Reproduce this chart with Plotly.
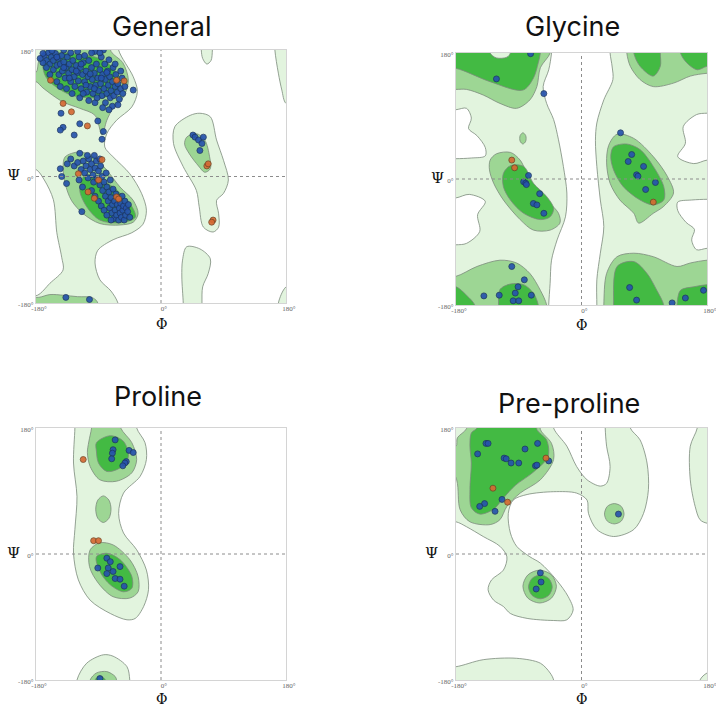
import plotly.graph_objects as go

# ---------------- colours / style ----------------
LIGHT = '#e2f4de'
MID = '#9dd694'
DARK = '#43ba43'
WHITE = '#ffffff'
EDGE = '#7b8a7b'
BLUE = '#2653ad'
BLUE_EDGE = '#1c355f'
ORANGE = '#d66a33'
ORANGE_EDGE = '#6e4424'

panel_titles = ['General', 'Glycine', 'Proline', 'Pre-proline']
tick_vals = [-180, 0, 180]
x_tick_text = ['-180°', '0°', '180°']
y_tick_text = ['-180°', '0°', '180°']

# ---------------- General: regions (phi, psi) ----------------
gen_light_left = [(-200, 200), (-61, 200), (-61, 180), (-40, 142), (-34, 121), (-42, 99), (-64, 80), (-78, 61),
                  (-81, 42), (-69, 28), (-45, 4), (-28, -24), (-21, -48), (-26, -68), (-42, -80), (-69, -90),
                  (-91, -105), (-95, -123), (-88, -147), (-72, -163), (-62, -180), (-60, -200), (-200, -200),
                  (-200, -170), (-178, -169), (-160, -152), (-141, -133), (-143, -115), (-150, -80),
                  (-155, -33), (-168, -5), (-180, 10), (-200, 12)]
gen_light_lh = [(42, 87), (56, 90), (71, 85), (80, 52), (90, 23), (97, -5), (90, -24), (80, -34), (83, -53),
                (83, -72), (75, -79), (61, -72), (55, -43), (51, -20), (32, 14), (18, 47), (20, 71)]
gen_light_top = [(58, 200), (58, 180), (60, 168), (66, 160), (72, 165), (74, 180), (74, 200)]
gen_light_bottom = [(37, -100), (56, -103), (71, -117), (68, -138), (60, -157), (59, -180), (59, -200),
                    (32, -200), (32, -180), (30, -143), (31, -119)]
gen_light_right_top = [(164, 200), (164, 180), (169, 147), (174, 123), (180, 104), (200, 100), (200, 200)]
gen_light_right_bot = [(169, -200), (169, -180), (180, -157), (200, -150), (200, -200)]
gen_mid_beta = [(-200, 145), (-180, 148), (-176, 165), (-168, 178), (-165, 200), (-75, 200), (-72, 178),
                (-55, 162), (-47, 137), (-54, 113), (-69, 97), (-78, 80), (-85, 59), (-95, 87), (-117, 97),
                (-141, 106), (-170, 126), (-180, 135), (-200, 135)]
gen_dark_beta = [(-170, 160), (-162, 172), (-145, 176), (-120, 174), (-95, 170), (-75, 160), (-60, 140),
                 (-62, 122), (-80, 113), (-105, 112), (-130, 116), (-152, 128), (-166, 142)]
gen_mid_alpha = [(-138, 28), (-117, 35), (-97, 28), (-78, 9), (-59, -15), (-40, -34), (-33, -53), (-40, -65),
                 (-59, -69), (-88, -67), (-112, -53), (-129, -34), (-138, -10), (-141, 14)]
gen_dark_alpha = [(-109, 2), (-78, -9), (-45, -38), (-37, -58), (-59, -66), (-88, -62), (-107, -43),
                  (-117, -19)]
gen_mid_lh = [(37, 56), (51, 61), (63, 52), (70, 28), (71, 11), (63, 6), (54, 15), (41, 32), (34, 46)]
gen_mid_bottom = [(-200, -172), (-176, -172), (-160, -168), (-140, -169), (-120, -171), (-100, -172),
                  (-92, -178), (-90, -200), (-200, -200)]

gen_blue = [(-168, 172), (-165, 165), (-162, 176), (-160, 160), (-158, 170), (-155, 165), (-155, 152),
            (-152, 175), (-150, 158), (-148, 168), (-147, 145), (-145, 160), (-143, 172), (-142, 150),
            (-140, 163), (-138, 140), (-137, 155), (-135, 170), (-133, 147), (-132, 160), (-130, 135),
            (-128, 152), (-127, 165), (-125, 142), (-124, 128), (-122, 158), (-120, 148), (-119, 136),
            (-118, 170), (-116, 155), (-115, 125), (-113, 145), (-112, 162), (-110, 135), (-108, 150),
            (-107, 120), (-105, 142), (-104, 165), (-102, 128), (-100, 155), (-99, 138), (-98, 118),
            (-96, 147), (-95, 178), (-94, 130), (-93, 160), (-91, 140), (-90, 122), (-88, 152), (-87, 132),
            (-86, 170), (-85, 115), (-84, 145), (-82, 125), (-81, 160), (-80, 138), (-78, 118), (-77, 150),
            (-76, 130), (-74, 142), (-73, 112), (-72, 122), (-70, 135), (-69, 155), (-68, 115), (-66, 128),
            (-65, 145), (-63, 120), (-62, 132), (-60, 110), (-58, 125), (-56, 140), (-55, 118), (-52, 128),
            (-40, 123), (-83, 180), (-100, 176), (-110, 172), (-88, 176), (-160, 145), (-150, 135),
            (-165, 155), (-170, 162), (-145, 128), (-136, 125), (-128, 118), (-117, 112), (-104, 108),
            (-95, 105), (-80, 105), (-70, 100), (-62, 102), (-75, 166), (-66, 160), (-58, 150), (-120, 178),
            (-130, 176), (-140, 180), (-157, 179), (-112, 118), (-92, 112), (-84, 98), (-75, 95), (-122, 150),
            (-108, 130), (-96, 125), (-86, 140), (-78, 148), (-102, 146), (-115, 160), (-140, 155),
            (-132, 140), (-150, 170), (-170, 175), (-174, 168),
            (-125, 15), (-120, 20), (-115, 10), (-112, 22), (-110, 5), (-108, 15), (-105, -2), (-104, 25),
            (-102, 10), (-100, 18), (-98, 2), (-97, -8), (-95, 12), (-93, 22), (-92, -3), (-90, 8), (-88, -12),
            (-87, 15), (-85, 0), (-84, -20), (-82, -8), (-80, -28), (-79, 5), (-78, -15), (-76, -35),
            (-75, -22), (-74, -45), (-73, -5), (-72, -30), (-71, -52), (-70, -40), (-69, -18), (-68, -60),
            (-67, -35), (-66, -48), (-65, -25), (-64, -55), (-63, -40), (-62, -30), (-61, -62), (-60, -45),
            (-59, -52), (-58, -38), (-57, -58), (-56, -28), (-55, -48), (-54, -42), (-53, -62), (-52, -35),
            (-51, -55), (-50, -45), (-48, -50), (-47, -40), (-45, -58), (-118, -5), (-113, -15), (-100, -20),
            (-95, -28), (-90, -35), (-86, -42), (-82, -48), (-78, -55), (-72, -62), (-145, 11), (-143, 0),
            (-136, -10), (-117, 33), (-114, -50), (-130, 25), (-135, 18), (-106, 30), (-96, 30), (-88, 25),
            (46, 59), (49, 56), (54, 52), (59, 47), (56, 37), (61, 56), (-137, -172), (-103, -175),
            (-144, 90), (-141, 70), (-145, 66), (-125, 59), (-117, 75), (-91, 79), (-83, 64), (-85, 53)]
gen_orange = [(-159, 137), (-141, 104), (-129, 92), (-106, 72), (-64, 137), (-53, 136), (-85, 24), (-119, 4),
              (-90, -5), (-105, -22), (-96, -31), (-64, -29), (-61, -32), (66, 15), (68, 18), (75, -62),
              (73, -65)]

# ---------------- Glycine ----------------
gly_background = [(-200, -200), (200, -200), (200, 200), (-200, 200)]
gly_white_center = [(-42, 200), (-43, 180), (-47, 156), (-55, 132), (-50, 108), (-40, 85), (-33, 56),
                    (-26, 18), (-21, -20), (-23, -54), (-35, -87), (-43, -116), (-45, -149), (-47, -180),
                    (-47, -200), (22, -200), (22, -180), (22, -144), (27, -106), (32, -68), (27, -30),
                    (22, 18), (20, 55), (22, 80), (32, 113), (45, 142), (44, 160), (41, 180), (41, 200)]
gly_white_left1 = [(-200, 99), (-180, 99), (-165, 101), (-158, 87), (-162, 72), (-150, 62), (-138, 45),
                   (-138, 33), (-158, 30), (-180, 29), (-200, 29)]
gly_white_left2 = [(-200, -27), (-180, -27), (-161, -22), (-138, -32), (-149, -51), (-146, -75),
                   (-165, -92), (-180, -94), (-200, -94)]
gly_white_right1 = [(200, 94), (180, 94), (165, 92), (146, 75), (149, 51), (138, 32), (161, 22), (180, 27),
                    (200, 27)]
gly_white_right2 = [(200, -99), (180, -99), (165, -101), (158, -87), (162, -72), (150, -62), (138, -45),
                    (138, -33), (158, -30), (180, -29), (200, -29)]
gly_mid_tl = [(-200, 128), (-180, 128), (-165, 128), (-141, 120), (-117, 108), (-93, 101), (-74, 113),
              (-64, 132), (-59, 159), (-45, 180), (-45, 200), (-200, 200)]
gly_dark_tl = [(-200, 158), (-180, 158), (-131, 139), (-84, 127), (-69, 144), (-62, 166), (-59, 180),
               (-59, 200), (-200, 200)]
gly_notch = [(-131, 200), (-131, 180), (-122, 173), (-107, 174), (-102, 180), (-102, 200)]
gly_mid_bl = [(-200, -139), (-180, -139), (-150, -125), (-117, -116), (-93, -120), (-74, -135), (-59, -159),
              (-50, -180), (-50, -200), (-200, -200)]
gly_dark_bl1 = [(-200, -154), (-180, -154), (-165, -166), (-153, -180), (-150, -200), (-200, -200)]
gly_dark_bl2 = [(-119, -200), (-119, -180), (-117, -158), (-102, -150), (-83, -151), (-69, -163),
                (-62, -180), (-62, -200)]
gly_mid_la = [(-131, 27), (-122, 36), (-102, 38), (-88, 27), (-74, -1), (-50, -30), (-33, -49), (-31, -63),
              (-45, -73), (-69, -73), (-88, -58), (-112, -30), (-126, -6), (-132, 13)]
gly_dark_la = [(-112, 8), (-102, 19), (-83, 18), (-69, -6), (-50, -25), (-40, -42), (-45, -54), (-59, -58),
               (-83, -49), (-102, -30), (-112, -11)]
gly_blob = [(-84, 66), (-80, 62), (-80, 54), (-84, 50), (-88, 54), (-88, 62)]
gly_mid_ra = [(51, 64), (75, 58), (103, 32), (123, 4), (132, -20), (118, -39), (103, -49), (82, -63),
              (75, -49), (55, -30), (41, -6), (36, 23), (39, 48)]
gly_dark_ra = [(46, 46), (65, 50), (84, 42), (103, 18), (118, -11), (118, -30), (103, -37), (84, -30),
               (60, -11), (46, 13), (42, 32)]
gly_mid_tr = [(65, 200), (65, 180), (70, 161), (84, 142), (103, 132), (132, 137), (156, 147), (180, 151),
              (200, 151), (200, 200)]
gly_dark_tr1 = [(75, 200), (75, 180), (84, 161), (103, 147), (113, 161), (113, 180), (113, 200)]
gly_dark_tr2 = [(142, 200), (142, 180), (151, 166), (166, 156), (180, 161), (200, 161), (200, 200)]
gly_mid_br = [(32, -200), (32, -180), (36, -135), (51, -111), (75, -106), (103, -111), (137, -125),
              (156, -120), (180, -116), (200, -116), (200, -200)]
gly_dark_br1 = [(46, -200), (46, -180), (51, -125), (75, -118), (94, -135), (108, -159), (118, -180),
                (118, -200)]
gly_dark_br2 = [(137, -200), (137, -180), (142, -159), (161, -154), (180, -151), (200, -151), (200, -200)]

gly_blue = [(-73, 179), (-122, 143), (-54, 122), (56, 66), (-76, 5), (-83, -4), (-80, -6), (-79, -8),
            (-60, -21), (-69, -35), (-64, -37), (-54, -49), (72, 35), (67, 25), (89, 18), (79, 6), (81, 4),
            (106, -5), (92, -15), (-100, -125), (-82, -144), (-91, -154), (-72, -166), (-95, -163),
            (-118, -166), (-140, -167), (-98, -174), (-90, -174), (69, -155), (79, -173), (130, -177),
            (149, -170), (175, -159)]
gly_orange = [(-100, 27), (-96, 16), (103, -33)]

# ---------------- Proline ----------------
pro_light = [(-124, 200), (-124, 180), (-126, 130), (-121, 82), (-124, 35), (-126, 1), (-119, -37),
             (-102, -66), (-73, -85), (-49, -94), (-37, -92), (-25, -75), (-18, -51), (-21, -23), (-35, 6),
             (-54, 30), (-61, 58), (-54, 87), (-30, 111), (-21, 135), (-23, 159), (-35, 180), (-35, 200)]
pro_light_bot = [(-121, -200), (-121, -180), (-107, -156), (-83, -144), (-69, -146), (-49, -161),
                 (-45, -180), (-45, -200)]
pro_mid_top = [(-104, 160), (-100, 180), (-98, 200), (-60, 200), (-58, 180), (-42, 159), (-35, 135),
               (-42, 116), (-64, 104), (-88, 106), (-102, 125), (-106, 145)]
pro_dark_top = [(-93, 159), (-73, 169), (-54, 161), (-47, 139), (-59, 123), (-78, 118), (-90, 130),
                (-93, 147)]
pro_mid_blob = [(-83, 83), (-75, 77), (-72, 64), (-75, 51), (-83, 45), (-91, 51), (-94, 64), (-91, 77)]
pro_mid_alpha = [(-102, 6), (-88, 16), (-69, 13), (-45, -8), (-33, -32), (-33, -54), (-45, -63), (-69, -61),
                 (-90, -42), (-103, -18)]
pro_dark_alpha = [(-93, -4), (-78, 1), (-59, -8), (-42, -32), (-42, -49), (-54, -54), (-73, -44),
                  (-88, -25)]
pro_mid_bot = [(-102, -200), (-102, -180), (-93, -170), (-78, -168), (-66, -175), (-64, -180), (-64, -200)]
pro_dark_bot = [(-95, -200), (-95, -180), (-88, -174), (-80, -180), (-80, -200)]

pro_blue = [(-66, 163), (-69, 149), (-70, 144), (-71, 136), (-46, 148), (-40, 145), (-50, 132), (-52, 130),
            (-55, 126), (-78, -6), (-73, -11), (-91, -20), (-76, -20), (-59, -18), (-78, -28), (-69, -25),
            (-66, -35), (-59, -36), (-53, -46), (-88, -178)]
pro_orange = [(-112, 135), (-97, 19), (-90, 19)]

# ---------------- Pre-proline ----------------
pp_light_main = [(-200, 46), (-200, 200), (-40, 200), (-40, 180), (-21, 154), (-7, 125), (8, 106), (27, 97),
                 (36, 101), (41, 125), (36, 154), (34, 180), (34, 200), (70, 200), (70, 180), (84, 163),
                 (94, 130), (96, 92), (89, 58), (75, 35), (46, 25), (22, 35), (10, 58), (8, 77), (-7, 87),
                 (-40, 89), (-78, 85), (-98, 77), (-105, 58), (-102, 30), (-93, 11), (-74, -4), (-59, -13),
                 (-36, -37), (-19, -61), (-12, -80), (-21, -94), (-40, -95), (-78, -92), (-102, -85),
                 (-112, -75), (-126, -66), (-134, -51), (-129, -37), (-112, -23), (-107, -4), (-117, 11),
                 (-141, 25), (-165, 39), (-180, 46)]
pp_light_right = [(166, 200), (166, 180), (156, 154), (156, 106), (163, 68), (170, 49), (180, 44), (200, 44),
                  (200, 200)]
pp_light_bl = [(-200, -161), (-180, -161), (-141, -151), (-93, -149), (-59, -156), (-45, -170), (-40, -180),
               (-40, -200), (-200, -200)]
pp_light_br = [(170, -200), (170, -180), (180, -170), (200, -165), (200, -200)]
pp_mid_main = [(-200, 154), (-180, 154), (-178, 166), (-165, 179), (-165, 200), (-59, 200), (-59, 178),
               (-43, 158), (-40, 135), (-59, 106), (-88, 87), (-107, 68), (-117, 49), (-131, 42),
               (-160, 46), (-174, 63), (-179, 106)]
pp_dark_main = [(-160, 154), (-158, 173), (-150, 180), (-150, 200), (-64, 200), (-64, 178), (-50, 163),
                (-48, 139), (-69, 117), (-95, 98), (-112, 80), (-126, 64), (-146, 57), (-158, 66),
                (-160, 92), (-158, 130)]
pp_mid_rb = [(47, 72), (57, 68), (61, 57), (57, 47), (47, 43), (37, 47), (33, 57), (37, 68)]
pp_mid_alpha = [(-60, -23), (-43, -30), (-36, -46), (-43, -63), (-60, -70), (-77, -63), (-84, -46),
                (-77, -30)]
pp_dark_alpha = [(-59, -30), (-47, -35), (-42, -47), (-47, -59), (-59, -64), (-71, -59), (-76, -47),
                 (-71, -35)]

pp_blue = [(-137, 158), (-134, 158), (-149, 143), (-111, 137), (-108, 136), (-101, 130), (-90, 130),
           (-81, 150), (-63, 158), (-66, 126), (-64, 127), (-47, 133), (-114, 78), (-139, 72), (-146, 68),
           (-124, 61), (53, 57), (-59, -27), (-58, -40), (-65, -50)]
pp_orange = [(-51, 137), (-127, 94), (-106, 74)]

# ---------------- panel assembly ----------------
panels = [
    dict(name='General', background=None,
         layers=[(gen_light_left, LIGHT), (gen_light_lh, LIGHT), (gen_light_top, LIGHT),
                 (gen_light_bottom, LIGHT), (gen_light_right_top, LIGHT), (gen_light_right_bot, LIGHT),
                 (gen_mid_beta, MID), (gen_mid_alpha, MID), (gen_mid_lh, MID), (gen_mid_bottom, MID),
                 (gen_dark_beta, DARK), (gen_dark_alpha, DARK)],
         blue=gen_blue, orange=gen_orange),
    dict(name='Glycine', background=gly_background,
         layers=[(gly_white_center, WHITE), (gly_white_left1, WHITE), (gly_white_left2, WHITE),
                 (gly_white_right1, WHITE), (gly_white_right2, WHITE),
                 (gly_mid_tl, MID), (gly_mid_bl, MID), (gly_mid_la, MID), (gly_blob, MID), (gly_mid_ra, MID),
                 (gly_mid_tr, MID), (gly_mid_br, MID),
                 (gly_dark_tl, DARK), (gly_notch, LIGHT), (gly_dark_bl1, DARK), (gly_dark_bl2, DARK),
                 (gly_dark_la, DARK), (gly_dark_ra, DARK), (gly_dark_tr1, DARK), (gly_dark_tr2, DARK),
                 (gly_dark_br1, DARK), (gly_dark_br2, DARK)],
         blue=gly_blue, orange=gly_orange),
    dict(name='Proline', background=None,
         layers=[(pro_light, LIGHT), (pro_light_bot, LIGHT), (pro_mid_top, MID), (pro_mid_blob, MID),
                 (pro_mid_alpha, MID), (pro_mid_bot, MID), (pro_dark_top, DARK), (pro_dark_alpha, DARK),
                 (pro_dark_bot, DARK)],
         blue=pro_blue, orange=pro_orange),
    dict(name='Pre-proline', background=None,
         layers=[(pp_light_main, LIGHT), (pp_light_right, LIGHT), (pp_light_bl, LIGHT), (pp_light_br, LIGHT),
                 (pp_mid_main, MID), (pp_mid_rb, MID), (pp_mid_alpha, MID), (pp_dark_main, DARK),
                 (pp_dark_alpha, DARK)],
         blue=pp_blue, orange=pp_orange),
]

W, H = 716, 707
OFF = 0  # the page margin is removed after drawing (see post_script below)
# screen-pixel boxes of each plotting area (left, right, top, bottom)
boxes = [(36, 286, 50, 303), (456, 707, 53, 305), (36, 286, 428, 680), (456, 707, 428, 680)]
title_pos = [(161, 27), (572, 26), (158, 397), (569, 403)]
psi_offset = [-0.09, -0.072, -0.09, -0.096]
phi_pixel_y = [324, 325, 699, 699]

fig = go.Figure()
layout = dict(width=W, height=H, margin=dict(l=0, r=0, t=0, b=0, pad=0, autoexpand=False),
              paper_bgcolor='white', plot_bgcolor='white', showlegend=False, annotations=[], shapes=[])


def closed(poly):
    xs = [p[0] for p in poly] + [poly[0][0]]
    ys = [p[1] for p in poly] + [poly[0][1]]
    return xs, ys


def px_x(v):
    return (v - OFF) / W


def px_y(v):
    return 1 - (v - OFF) / H


for i, pnl in enumerate(panels):
    n = i + 1
    xa = 'x' if n == 1 else f'x{n}'
    ya = 'y' if n == 1 else f'y{n}'
    if pnl['background'] is not None:
        xs, ys = closed(pnl['background'])
        fig.add_trace(go.Scatter(x=xs, y=ys, mode='lines', fill='toself', fillcolor=LIGHT,
                                 line=dict(width=0), xaxis=xa, yaxis=ya, hoverinfo='skip'))
    for poly, col in pnl['layers']:
        xs, ys = closed(poly)
        fig.add_trace(go.Scatter(x=xs, y=ys, mode='lines', fill='toself', fillcolor=col,
                                 line=dict(color=EDGE, width=0.8, shape='spline', smoothing=0.9),
                                 xaxis=xa, yaxis=ya, hoverinfo='skip'))
    for pts, fc, lc in [(pnl['blue'], BLUE, BLUE_EDGE), (pnl['orange'], ORANGE, ORANGE_EDGE)]:
        fig.add_trace(go.Scatter(x=[p[0] for p in pts], y=[p[1] for p in pts], mode='markers',
                                 marker=dict(size=6, color=fc, opacity=0.92, line=dict(color=lc, width=0.8)),
                                 xaxis=xa, yaxis=ya, hoverinfo='skip'))

    l, r, t, b = boxes[i]
    axis_common = dict(range=[-180, 180], showgrid=False, zeroline=False, showline=True, mirror=True,
                       linecolor='#d4d4d4', linewidth=1, tickvals=tick_vals, ticks='', automargin=False,
                       ticklabeloverflow='allow',
                       tickfont=dict(family='Liberation Serif', size=7, color='#666666'), fixedrange=True)
    layout['xaxis' if n == 1 else f'xaxis{n}'] = dict(axis_common, domain=[px_x(l), px_x(r)], anchor=ya,
                                                      ticktext=x_tick_text, ticklabelstandoff=-1,
                                                      ticklabelshift=3)
    layout['yaxis' if n == 1 else f'yaxis{n}'] = dict(axis_common, domain=[px_y(b), px_y(t)], anchor=xa,
                                                      ticktext=y_tick_text, ticklabelshift=2)
    # dashed zero lines
    layout['shapes'].append(dict(type='line', xref=xa, yref=f'{ya} domain', x0=0, x1=0, y0=0, y1=1,
                                 line=dict(color='#8c8c8c', width=1, dash='dot'), layer='above'))
    layout['shapes'].append(dict(type='line', xref=f'{xa} domain', yref=ya, x0=0, x1=1, y0=0, y1=0,
                                 line=dict(color='#8c8c8c', width=1, dash='dot'), layer='above'))
    # titles and axis symbols
    tx, ty = title_pos[i]
    layout['annotations'].append(dict(text=pnl['name'], xref='paper', yref='paper', x=px_x(tx), y=px_y(ty),
                                      xanchor='center', yanchor='middle', showarrow=False,
                                      font=dict(family='Inter', size=27, color='#111111')))
    layout['annotations'].append(dict(text='Ψ', xref=f'{xa} domain', yref=ya, x=psi_offset[i], y=2,
                                      xanchor='center', yanchor='middle', showarrow=False,
                                      font=dict(family='DejaVu Serif', size=15, color='#111111')))
    layout['annotations'].append(dict(text='Φ', xref='paper', yref='paper', x=px_x((l + r) / 2),
                                      y=px_y(phi_pixel_y[i]), xanchor='center', yanchor='middle',
                                      showarrow=False,
                                      font=dict(family='DejaVu Serif', size=14, color='#111111')))

fig.update_layout(**layout)
fig.write_html('out.html', config={'displayModeBar': False},
               post_script="document.body.style.margin='0px';document.body.style.overflow='hidden';")
